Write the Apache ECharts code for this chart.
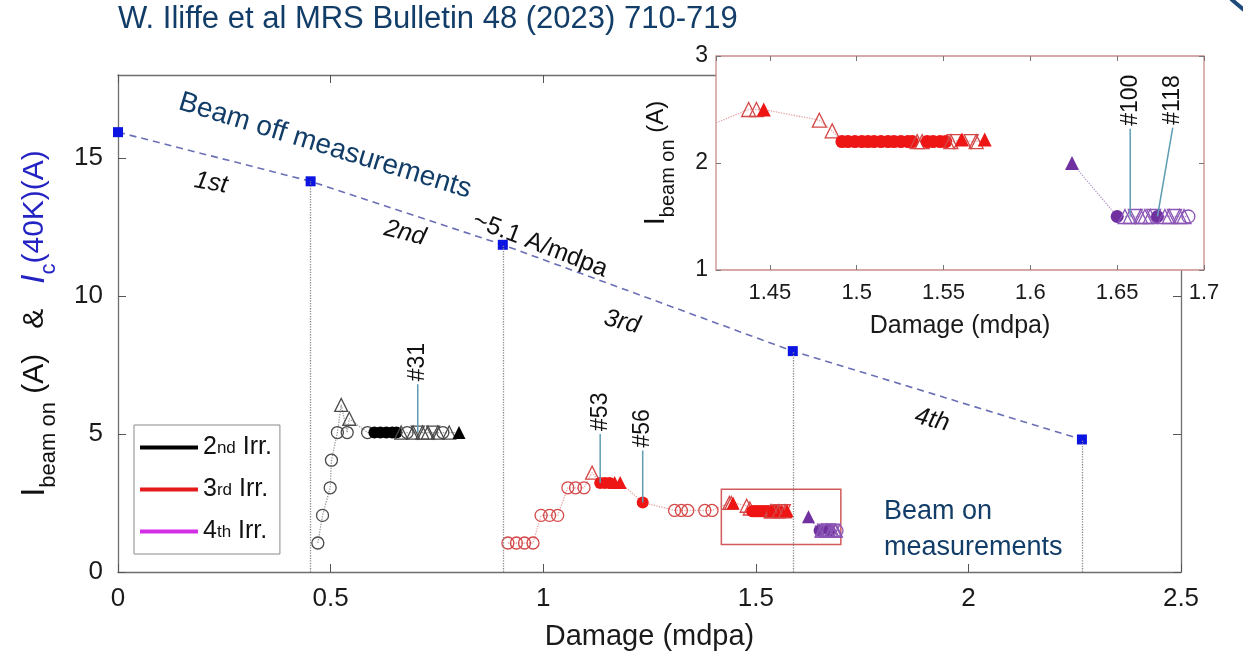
<!DOCTYPE html>
<html>
<head>
<meta charset="utf-8">
<script src="https://cdn.jsdelivr.net/npm/echarts@6/dist/echarts.min.js"></script>
<style>
  html, body { margin: 0; padding: 0; background: #ffffff; }
  #chart { width: 1243px; height: 660px; }
</style>
</head>
<body>
<div id="chart"></div>
<script>
// ---- Beam-off critical current Ic(40K) after each irradiation stage ----
const offDamage = [0, 0.453, 0.905, 1.587, 2.267];
const offIc = [15.93, 14.15, 11.85, 8.0, 4.8];
const stageNames = ['1st', '2nd', '3rd', '4th'];

// ---- Beam-on current steps ----
// kind: o = open circle, O = filled circle, t = open triangle,
//       T = filled triangle, v = open inverted triangle
const irr2Damage = [0.470, 0.481, 0.499, 0.502, 0.516, 0.525, 0.539, 0.544, 0.587,
  0.603, 0.617, 0.631, 0.645, 0.655, 0.666, 0.680, 0.694, 0.705, 0.716, 0.729,
  0.741, 0.752, 0.764, 0.779, 0.802];
const irr2I = [1.05, 2.05, 3.05, 4.05, 5.05, 6.05, 5.05, 5.55, 5.05,
  5.05, 5.05, 5.05, 5.05, 5.05, 5.05, 5.05, 5.05, 5.05, 5.05, 5.05,
  5.05, 5.05, 5.05, 5.05, 5.05];
const irr2Kind = ['o', 'o', 'o', 'o', 'o', 't', 'o', 't', 'o',
  'O', 'O', 'O', 'O', 'O', 't', 'o', 't', 'v', 't', 't',
  'v', 't', 'o', 't', 'T'];

const irr3Damage = [0.917, 0.937, 0.956, 0.976, 0.995, 1.015, 1.034, 1.058, 1.076, 1.096,
  1.115, 1.134, 1.145, 1.156, 1.168, 1.181, 1.234, 1.309, 1.325, 1.340, 1.380, 1.397,
  1.4378, 1.4423, 1.4465, 1.4785, 1.4859,
  1.4915, 1.4950, 1.4990, 1.5030, 1.5065, 1.5100, 1.5140, 1.5180, 1.5215, 1.5255, 1.5295, 1.5320,
  1.5348, 1.5377, 1.5406, 1.5440, 1.5480, 1.5513, 1.5542, 1.5561, 1.5606, 1.5659, 1.5688, 1.5737];
const irr3I = [1.05, 1.05, 1.05, 1.05, 2.05, 2.05, 2.05, 3.05, 3.05, 3.05,
  3.6, 3.22, 3.22, 3.22, 3.24, 3.24, 2.52, 2.23, 2.23, 2.23, 2.23, 2.23,
  2.5, 2.5, 2.5, 2.4, 2.3,
  2.2, 2.2, 2.2, 2.2, 2.2, 2.2, 2.2, 2.2, 2.2, 2.2, 2.2, 2.2,
  2.2, 2.2, 2.2, 2.2, 2.2, 2.2, 2.2, 2.2, 2.22, 2.2, 2.2, 2.22];
const irr3Kind = ['o', 'o', 'o', 'o', 'o', 'o', 'o', 'o', 'o', 'o',
  't', 'O', 'O', 'O', 'T', 'T', 'O', 'o', 'o', 'o', 'o', 'o',
  't', 't', 'T', 't', 't',
  'O', 'O', 'O', 'O', 'O', 'O', 'O', 'O', 'O', 'O', 'O', 'O',
  't', 't', 'O', 'O', 'O', 'O', 't', 'v', 'T', 'v', 't', 'T'];

const irr4Damage = [1.624, 1.650, 1.6545, 1.6575, 1.6605, 1.6635, 1.6660, 1.6690, 1.6710,
  1.6732, 1.6775, 1.6800, 1.6830, 1.6860, 1.6885, 1.6910];
const irr4I = [2.0, 1.5, 1.5, 1.5, 1.5, 1.5, 1.5, 1.5, 1.5,
  1.5, 1.5, 1.5, 1.5, 1.5, 1.5, 1.5];
const irr4Kind = ['T', 'O', 't', 't', 'v', 't', 't', 't', 'v',
  'O', 't', 't', 'v', 't', 't', 'o'];

const irrNames = ['2nd Irr.', '3rd Irr.', '4th Irr.'];

// ---- Numbered measurements (point, then end of the leader line) ----
const mainNoteDamage = [0.705, 1.134, 1.234];
const mainNoteI = [5.05, 3.22, 2.52];
const mainNoteTipDamage = [0.705, 1.134, 1.234];
const mainNoteTipI = [6.8, 5.0, 4.4];
const mainNoteText = ['#31', '#53', '#56'];

const insetNoteDamage = [1.6575, 1.6732];
const insetNoteI = [1.5, 1.5];
const insetNoteTipDamage = [1.6575, 1.6820];
const insetNoteTipI = [2.32, 2.33];
const insetNoteText = ['#100', '#118'];

// ---- Axis ranges ----
const mainDamageRange = [0, 2.5];
const mainIRange = [0, 18];
const mainDamageTicks = ['0', '0.5', '1', '1.5', '2', '2.5'];
const mainITicks = ['0', '5', '10', '15'];
const insetDamageRange = [1.419, 1.70];
const insetIRange = [1, 3];

// ---------------------------------------------------------------
const FONT = '"Liberation Sans", Arial, Helvetica, sans-serif';
const NAVY = '#123d68';

const palette = {
  '2nd Irr.': { fill: '#000000', edge: '#4a4a4a', line: '#9a9a9a', key: '#000000' },
  '3rd Irr.': { fill: '#ee1515', edge: '#d44848', line: '#e3a3a3', key: '#e31b1b' },
  '4th Irr.': { fill: '#7030a0', edge: '#8a55b5', line: '#b79ccc', key: '#d22ee6' }
};

const markerShape = {
  o: { symbol: 'circle', rotate: 0, filled: false },
  O: { symbol: 'circle', rotate: 0, filled: true },
  t: { symbol: 'triangle', rotate: 0, filled: false },
  T: { symbol: 'triangle', rotate: 0, filled: true },
  v: { symbol: 'triangle', rotate: 180, filled: false }
};

function points(damage, current, kind, pal, size) {
  return damage.map((d, i) => {
    const m = markerShape[kind[i]];
    const s = m.symbol === 'triangle' ? size + 1 : size;
    return {
      value: [d, current[i]],
      symbol: m.symbol,
      symbolRotate: m.rotate,
      symbolSize: s,
      itemStyle: m.filled
        ? { color: pal.fill, borderWidth: 0 }
        : { color: 'rgba(255,255,255,0)', borderColor: pal.edge, borderWidth: 1.3 }
    };
  });
}

function irrSeries(name, damage, current, kind, grid, size, z) {
  const pal = palette[name];
  return {
    name: name,
    type: 'line',
    xAxisIndex: grid === 0 ? 0 : 2,
    yAxisIndex: grid === 0 ? 0 : 2,
    z: z,
    clip: true,
    showSymbol: true,
    itemStyle: { color: pal.key },
    lineStyle: { color: pal.line, width: 1.3, type: 'dotted' },
    emphasis: { disabled: true },
    data: points(damage, current, kind, pal, size)
  };
}

function noteSeries(d0, v0, d1, v1, texts, grid, fontSize, z) {
  return {
    type: 'custom',
    xAxisIndex: grid === 0 ? 0 : 2,
    yAxisIndex: grid === 0 ? 0 : 2,
    z: z,
    silent: true,
    data: d0.map((d, i) => [d, v0[i], d1[i], v1[i]]),
    encode: { x: [0, 2], y: [1, 3] },
    renderItem: function (params, api) {
      const p0 = api.coord([api.value(0), api.value(1)]);
      const p1 = api.coord([api.value(2), api.value(3)]);
      return {
        type: 'group',
        children: [
          {
            type: 'line',
            shape: { x1: p0[0], y1: p0[1], x2: p1[0], y2: p1[1] },
            style: { stroke: '#5f9db3', lineWidth: 1.5 }
          },
          {
            type: 'text',
            x: p1[0],
            y: p1[1] - 3,
            rotation: Math.PI / 2,
            style: {
              text: texts[params.dataIndex],
              fill: '#111111',
              font: fontSize + 'px ' + FONT,
              align: 'left',
              verticalAlign: 'middle'
            }
          }
        ]
      };
    }
  };
}

const tickText = { color: '#1a1a1a', fontFamily: FONT };
const frameLine = { show: true, onZero: false, lineStyle: { color: '#6e6e6e', width: 1.3 } };
const frameTick = { show: true, inside: true, length: 8, lineStyle: { color: '#555' } };
const insetTick = { show: true, inside: true, length: 5, lineStyle: { color: '#777' } };

const option = {
  animation: false,
  backgroundColor: '#ffffff',
  grid: [
    { left: 118, top: 75, right: 62, bottom: 88, show: false },
    {
      left: 716, top: 56, width: 488, height: 214, show: true, z: 10,
      backgroundColor: '#ffffff', borderColor: '#c98c8c', borderWidth: 1.3
    }
  ],
  xAxis: [
    {
      type: 'value', gridIndex: 0, position: 'bottom',
      min: mainDamageRange[0], max: mainDamageRange[1], interval: 0.5,
      axisLine: frameLine, axisTick: frameTick,
      splitLine: { show: false },
      axisLabel: {
        ...tickText, fontSize: 26, margin: 14,
        formatter: v => mainDamageTicks[Math.round(v / 0.5)]
      },
      name: 'Damage (mdpa)', nameLocation: 'middle', nameGap: 50,
      nameTextStyle: { ...tickText, fontSize: 29 }
    },
    {
      type: 'value', gridIndex: 0, position: 'top',
      min: mainDamageRange[0], max: mainDamageRange[1], interval: 0.5,
      axisLine: frameLine, axisTick: frameTick,
      splitLine: { show: false }, axisLabel: { show: false }
    },
    {
      type: 'value', gridIndex: 1, position: 'bottom', z: 11,
      min: insetDamageRange[0], max: insetDamageRange[1],
      minInterval: 0.05, maxInterval: 0.05,
      axisLine: { show: false }, axisTick: insetTick,
      splitLine: { show: false },
      axisLabel: {
        ...tickText, fontSize: 22, margin: 12, showMinLabel: false,
        formatter: v => (Math.abs(v * 20 - Math.round(v * 20)) < 1e-6 ? String(+v.toFixed(2)) : '')
      },
      name: 'Damage (mdpa)', nameLocation: 'middle', nameGap: 44,
      nameTextStyle: { ...tickText, fontSize: 25 }
    },
    {
      type: 'value', gridIndex: 1, position: 'top', z: 11,
      min: insetDamageRange[0], max: insetDamageRange[1],
      minInterval: 0.05, maxInterval: 0.05,
      axisLine: { show: false }, axisTick: insetTick,
      splitLine: { show: false }, axisLabel: { show: false }
    }
  ],
  yAxis: [
    {
      type: 'value', gridIndex: 0, position: 'left',
      min: mainIRange[0], max: mainIRange[1], interval: 5,
      axisLine: frameLine, axisTick: frameTick,
      splitLine: { show: false },
      axisLabel: {
        ...tickText, fontSize: 26, margin: 15, showMaxLabel: false,
        formatter: v => (v % 5 === 0 ? mainITicks[v / 5] : '')
      },
      name: '{I|I}{sub|beam on}{A| (A)}{amp|   &   }{Ic|I}{subc|c}{bl|(40K)(A)}',
      nameLocation: 'middle', nameRotate: 90, nameGap: 58,
      nameTextStyle: {
        rich: {
          I: { fontSize: 33, fontFamily: FONT, color: '#111', lineHeight: 50, verticalAlign: 'middle' },
          sub: { fontSize: 22, fontFamily: FONT, color: '#111', lineHeight: 26, verticalAlign: 'bottom' },
          A: { fontSize: 30, fontFamily: FONT, color: '#111', lineHeight: 50, verticalAlign: 'middle' },
          amp: { fontSize: 30, fontFamily: FONT, color: '#111', lineHeight: 50, verticalAlign: 'middle' },
          Ic: { fontSize: 33, fontFamily: FONT, fontStyle: 'italic', color: '#2323c4', lineHeight: 50, verticalAlign: 'middle' },
          subc: { fontSize: 22, fontFamily: FONT, color: '#2323c4', lineHeight: 26, verticalAlign: 'bottom' },
          bl: { fontSize: 30, fontFamily: FONT, color: '#2323c4', lineHeight: 50, verticalAlign: 'middle' }
        }
      }
    },
    {
      type: 'value', gridIndex: 0, position: 'right',
      min: mainIRange[0], max: mainIRange[1], interval: 5,
      axisLine: frameLine, axisTick: frameTick,
      splitLine: { show: false }, axisLabel: { show: false }
    },
    {
      type: 'value', gridIndex: 1, position: 'left', z: 11,
      min: insetIRange[0], max: insetIRange[1], interval: 1,
      axisLine: { show: false }, axisTick: insetTick,
      splitLine: { show: false },
      axisLabel: { ...tickText, fontSize: 23, margin: 8 },
      name: '{I|I}{sub|beam on}{A| (A)}',
      nameLocation: 'middle', nameRotate: 90, nameGap: 38,
      nameTextStyle: {
        rich: {
          I: { fontSize: 29, fontFamily: FONT, color: '#111', lineHeight: 44, verticalAlign: 'middle' },
          sub: { fontSize: 20, fontFamily: FONT, color: '#111', lineHeight: 24, verticalAlign: 'bottom' },
          A: { fontSize: 24, fontFamily: FONT, color: '#111', lineHeight: 44, verticalAlign: 'middle' }
        }
      }
    },
    {
      type: 'value', gridIndex: 1, position: 'right', z: 11,
      min: insetIRange[0], max: insetIRange[1], interval: 1,
      axisLine: { show: false }, axisTick: insetTick,
      splitLine: { show: false }, axisLabel: { show: false }
    }
  ],
  legend: {
    orient: 'vertical', left: 134, top: 425,
    data: irrNames.map(n => ({ name: n, itemStyle: { color: palette[n].key } })),
    icon: 'rect', itemWidth: 58, itemHeight: 4, itemGap: 17,
    padding: [10, 8, 10, 6],
    backgroundColor: '#ffffff', borderColor: '#8a8a8a', borderWidth: 1,
    selectedMode: false,
    formatter: n => n.replace(/^(\d)(st|nd|rd|th)/, '$1{s|$2}'),
    textStyle: {
      fontSize: 25, fontFamily: FONT, color: '#111',
      rich: { s: { fontSize: 17, fontFamily: FONT, color: '#111', verticalAlign: 'bottom', lineHeight: 20, padding: [0, 0, 3, 0] } }
    }
  },
  series: [
    // beam-off Ic(40K) with the stage boundaries dropped to the damage axis
    {
      name: 'Ic(40K)', type: 'line', xAxisIndex: 0, yAxisIndex: 0, z: 3,
      symbol: 'rect', symbolSize: 10,
      itemStyle: { color: '#0c14e2' },
      lineStyle: { color: '#6b6fb5', width: 1.6, type: [7, 5] },
      emphasis: { disabled: true },
      data: offDamage.map((d, i) => [d, offIc[i]]),
      markLine: {
        silent: true, symbol: 'none', animation: false,
        label: { show: false },
        lineStyle: { type: 'dotted', color: '#8c8c8c', width: 1.3 },
        data: offDamage.slice(1).map((d, i) => [{ coord: [d, mainIRange[0]] }, { coord: [d, offIc[i + 1]] }])
      }
    },
    irrSeries('2nd Irr.', irr2Damage, irr2I, irr2Kind, 0, 12, 4),
    Object.assign(irrSeries('3rd Irr.', irr3Damage, irr3I, irr3Kind, 0, 12, 4), {
      markArea: {
        silent: true,
        itemStyle: { color: 'rgba(0,0,0,0)', borderColor: '#d25a5a', borderWidth: 1.5 },
        data: [[{ coord: [insetDamageRange[0], insetIRange[0]] }, { coord: [insetDamageRange[1], insetIRange[1]] }]]
      }
    }),
    irrSeries('4th Irr.', irr4Damage, irr4I, irr4Kind, 0, 12, 4),
    noteSeries(mainNoteDamage, mainNoteI, mainNoteTipDamage, mainNoteTipI, mainNoteText, 0, 23, 5),

    // enlarged view of the end of the 3rd and the 4th irradiation
    {
      type: 'line', xAxisIndex: 2, yAxisIndex: 2, z: 12, clip: true,
      symbol: 'none', silent: true,
      data: [[offDamage[3], offIc[3]]],
      markLine: {
        silent: true, symbol: 'none', animation: false,
        label: { show: false },
        lineStyle: { type: 'dotted', color: '#8c8c8c', width: 1.3 },
        data: [{ xAxis: offDamage[3] }]
      }
    },
    irrSeries('3rd Irr.', irr3Damage, irr3I, irr3Kind, 1, 13, 13),
    irrSeries('4th Irr.', irr4Damage, irr4I, irr4Kind, 1, 13, 13),
    noteSeries(insetNoteDamage, insetNoteI, insetNoteTipDamage, insetNoteTipI, insetNoteText, 1, 23, 14)
  ],
  graphic: [
    {
      type: 'text', left: 118, top: 4,
      style: { text: 'W. Iliffe et al MRS Bulletin 48 (2023) 710-719', font: '31px ' + FONT, fill: NAVY }
    },
    {
      type: 'text', x: 325, y: 146, rotation: -17 * Math.PI / 180,
      style: { text: 'Beam off measurements', font: '28px ' + FONT, fill: NAVY, align: 'center', verticalAlign: 'middle' }
    },
    {
      type: 'text', x: 540, y: 245, rotation: -21 * Math.PI / 180,
      style: { text: '~5.1 A/mdpa', font: '25px ' + FONT, fill: '#111', align: 'center', verticalAlign: 'middle' }
    },
    {
      type: 'text', x: 211, y: 183, rotation: -10 * Math.PI / 180,
      style: { text: stageNames[0], font: 'italic 25px ' + FONT, fill: '#111', align: 'center', verticalAlign: 'middle' }
    },
    {
      type: 'text', x: 405, y: 233, rotation: -14 * Math.PI / 180,
      style: { text: stageNames[1], font: 'italic 25px ' + FONT, fill: '#111', align: 'center', verticalAlign: 'middle' }
    },
    {
      type: 'text', x: 622, y: 322, rotation: -14 * Math.PI / 180,
      style: { text: stageNames[2], font: 'italic 25px ' + FONT, fill: '#111', align: 'center', verticalAlign: 'middle' }
    },
    {
      type: 'text', x: 932, y: 420, rotation: -14 * Math.PI / 180,
      style: { text: stageNames[3], font: 'italic 25px ' + FONT, fill: '#111', align: 'center', verticalAlign: 'middle' }
    },
    {
      type: 'text', left: 884, top: 494,
      style: { text: 'Beam on\nmeasurements', font: '27px ' + FONT, fill: NAVY, lineHeight: 36 }
    },
    {
      type: 'line', shape: { x1: 1231, y1: -1, x2: 1244, y2: 10 },
      style: { stroke: '#1d4a7a', lineWidth: 4 }
    }
  ]
};

const chart = echarts.init(document.getElementById('chart'), null, { renderer: 'canvas' });
chart.setOption(option);
</script>
</body>
</html>
